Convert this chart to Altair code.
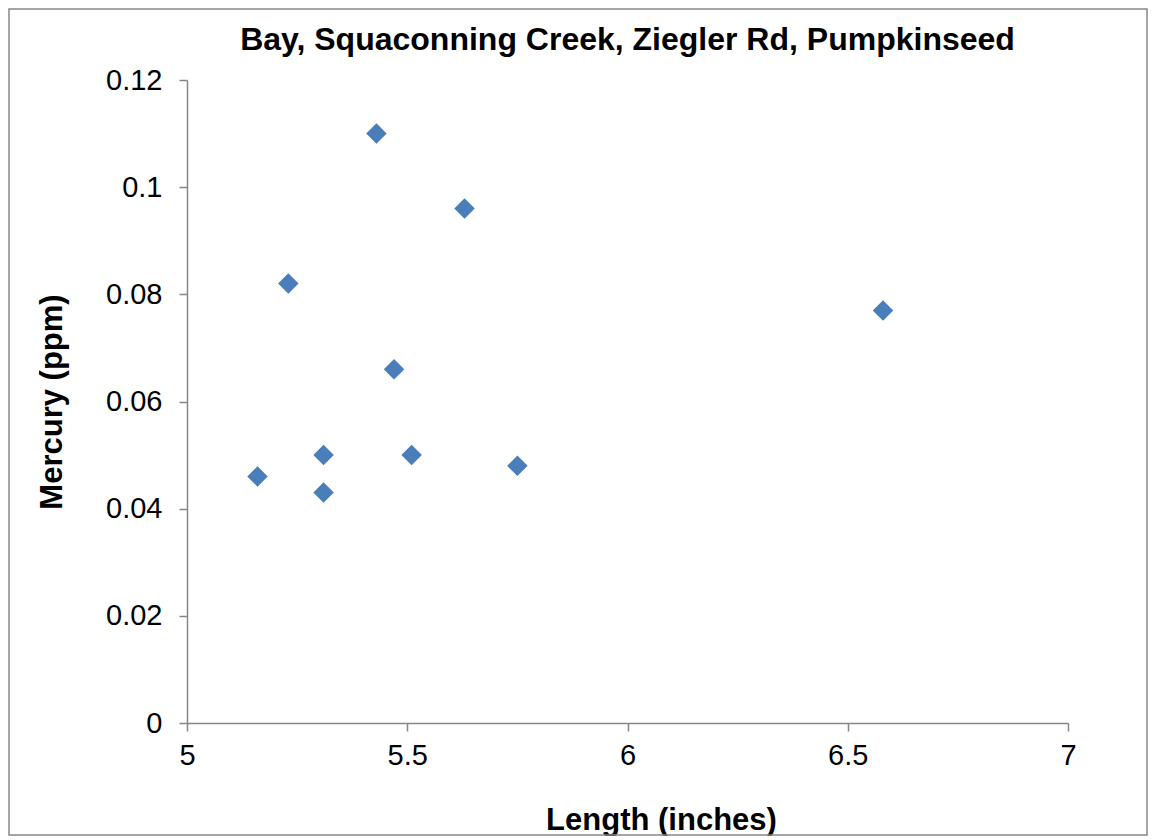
import altair as alt
import pandas as pd

length_in = [5.16, 5.23, 5.31, 5.31, 5.43, 5.47, 5.51, 5.63, 5.75, 6.58]
mercury_ppm = [0.046, 0.082, 0.050, 0.043, 0.110, 0.066, 0.050, 0.096, 0.048, 0.077]
x_ticks = [5, 5.5, 6, 6.5, 7]
y_ticks = [0, 0.02, 0.04, 0.06, 0.08, 0.10, 0.12]

df = pd.DataFrame({"length": length_in, "mercury": mercury_ppm})

FONT = "Liberation Sans"
AX = "#868686"

W, H = 881, 643
PAD_L, PAD_T, TOTAL_W, TOTAL_H = 179, 72, 1140, 828

points = alt.Chart(df).mark_point(
    shape="diamond", filled=True, size=420, color="#4A7EBB", opacity=1
).encode(
    x=alt.X(
        "length:Q",
        scale=alt.Scale(domain=[5, 7], nice=False, zero=False),
        axis=alt.Axis(
            values=x_ticks, labelExpr="format(datum.value, '.1~f')", title="Length (inches)",
            grid=False, domainColor=AX, tickColor=AX, domainWidth=1.5, tickWidth=1.5,
            tickSize=8, labelPadding=10, labelFontSize=29, labelFont=FONT, labelFlush=False,
            labelColor="black", titleFont=FONT, titleFontSize=31, titleFontWeight="bold",
            titleColor="black", titleX=474, titleY=106, titleBaseline="alphabetic",
            titleAlign="center",
        ),
    ),
    y=alt.Y(
        "mercury:Q",
        scale=alt.Scale(domain=[0, 0.12], nice=False),
        axis=alt.Axis(
            values=y_ticks, labelExpr="format(datum.value, '.2~f')", title="Mercury (ppm)",
            grid=False, domainColor=AX, tickColor=AX, domainWidth=1.5, tickWidth=1.5,
            tickSize=8, labelPadding=17, labelFontSize=29, labelFont=FONT, labelFlush=False,
            labelColor="black", titleFont=FONT, titleFontSize=31, titleFontWeight="bold",
            titleColor="black", titleX=-126, titleY=H / 2, titleBaseline="alphabetic",
            titleAlign="center", titleAngle=270,
        ),
    ),
)

border = alt.Chart(pd.DataFrame({"b": [0]})).mark_rect(
    fill=None, stroke="#888888", strokeWidth=1.5
).encode(
    x=alt.value(-PAD_L + 1),
    x2=alt.value(TOTAL_W - PAD_L - 1),
    y=alt.value(-PAD_T + 1),
    y2=alt.value(TOTAL_H - PAD_T - 1),
)

chart = alt.layer(border, points).properties(
    width=W,
    height=H,
    background="white",
    title=alt.TitleParams(
        "Bay, Squaconning Creek, Ziegler Rd, Pumpkinseed",
        font=FONT, fontSize=32, fontWeight="bold", color="black",
        anchor="middle", frame="group", offset=0, baseline="alphabetic", dy=74,
    ),
    autosize=alt.AutoSizeParams(type="none"),
    padding={"left": PAD_L, "top": PAD_T, "right": TOTAL_W - PAD_L - W, "bottom": TOTAL_H - PAD_T - H},
).configure_view(stroke="transparent", strokeWidth=0)

chart.save("out.html", embed_options={"renderer": "svg", "actions": False})
